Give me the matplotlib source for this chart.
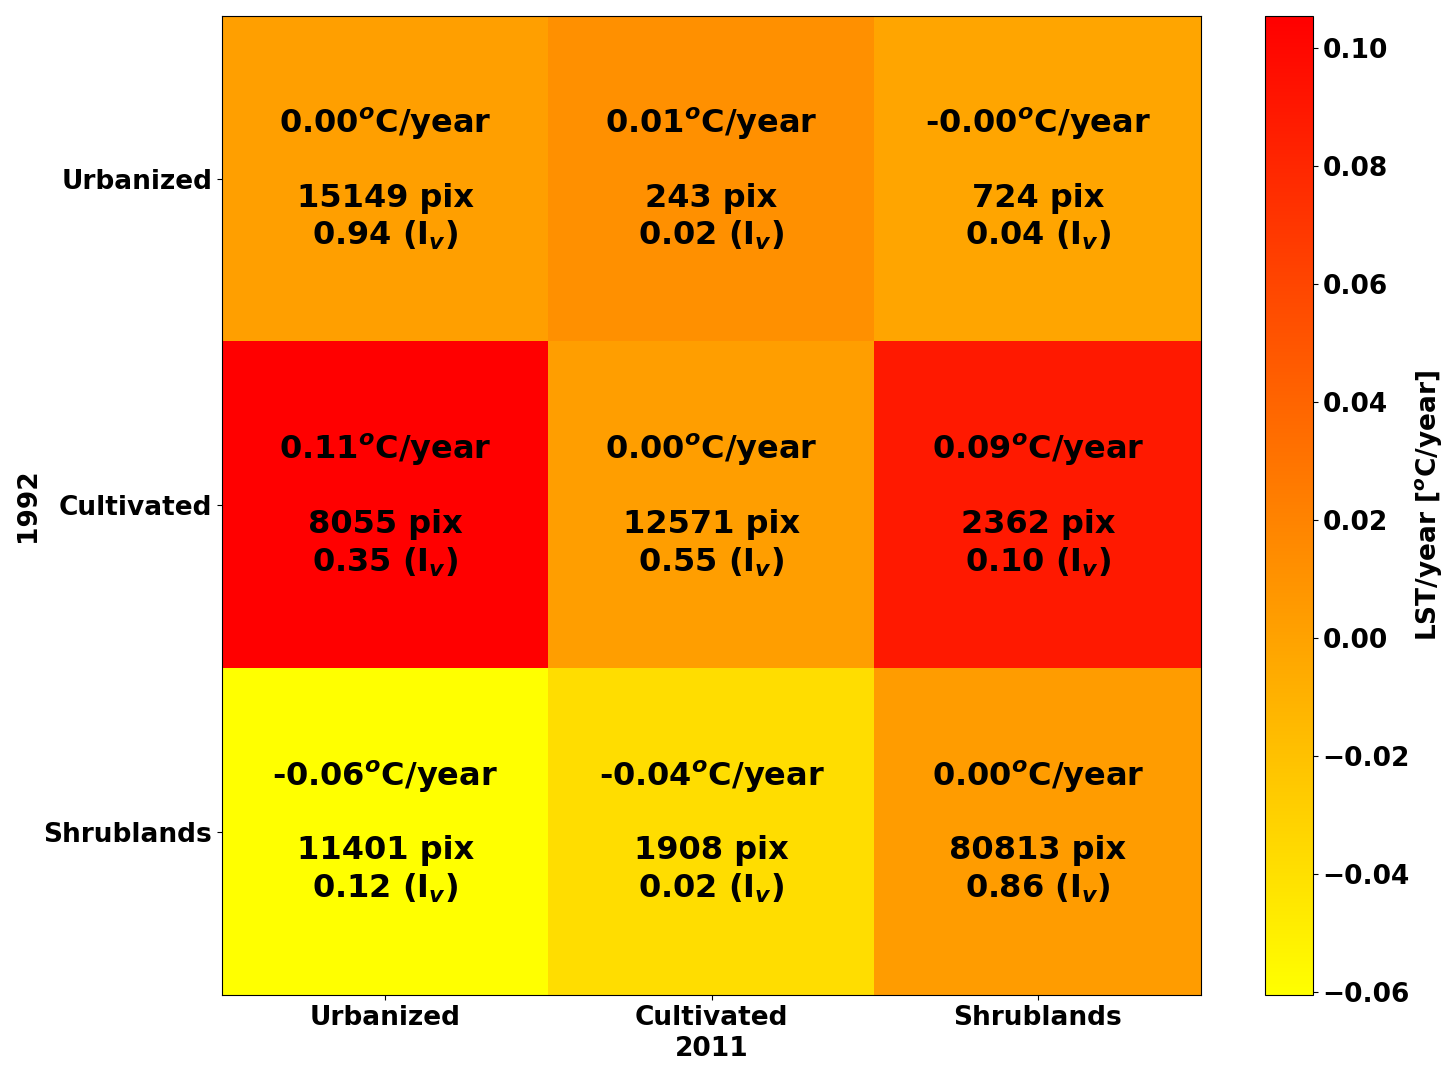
import matplotlib.pyplot as plt
import numpy as np

classes = ["Urbanized", "Cultivated", "Shrublands"]

# LST trend per transition (rows: 1992, cols: 2011), degC/year
trend = np.array([[0.002, 0.012, -0.002],
                  [0.1054, 0.003, 0.088],
                  [-0.0605, -0.038, 0.004]])
pixels = np.array([[15149, 243, 724],
                   [8055, 12571, 2362],
                   [11401, 1908, 80813]])
iv = np.array([[0.94, 0.02, 0.04],
               [0.35, 0.55, 0.10],
               [0.12, 0.02, 0.86]])

plt.rcParams['font.weight'] = 'bold'
plt.rcParams['axes.labelweight'] = 'bold'

fig = plt.figure(figsize=(14.54, 10.70), dpi=100)
ax = fig.add_axes([0.1527, 0.0701, 0.6733, 0.915])
cax = fig.add_axes([0.870, 0.0701, 0.033, 0.915])

im = ax.imshow(trend, cmap="autumn_r", aspect="auto")

for i in range(len(classes)):
    for j in range(len(classes)):
        txt = f"{trend[i, j]:.2f}$^o$C/year\n\n{pixels[i, j]} pix\n{iv[i, j]:.2f} (I$_v$)"
        ax.text(j, i, txt, ha="center", va="center", fontsize=23, fontweight="bold")

ax.set_xticks(range(len(classes)))
ax.set_yticks(range(len(classes)))
ax.set_xticklabels(classes, fontsize=19, fontweight="bold")
ax.set_yticklabels(classes, fontsize=19, fontweight="bold")
ax.set_xlabel("2011", fontsize=19, fontweight="bold", labelpad=4)
ax.set_ylabel("1992", fontsize=19, fontweight="bold", labelpad=2)

cb = fig.colorbar(im, cax=cax)
cb.set_ticks([-0.06, -0.04, -0.02, 0.00, 0.02, 0.04, 0.06, 0.08, 0.10])
cb.ax.tick_params(labelsize=19)
for t in cb.ax.get_yticklabels():
    t.set_fontweight("bold")
cb.set_label("LST/year [$^o$C/year]", fontsize=19, fontweight="bold", labelpad=2)

fig.savefig("out.png", dpi=100)
